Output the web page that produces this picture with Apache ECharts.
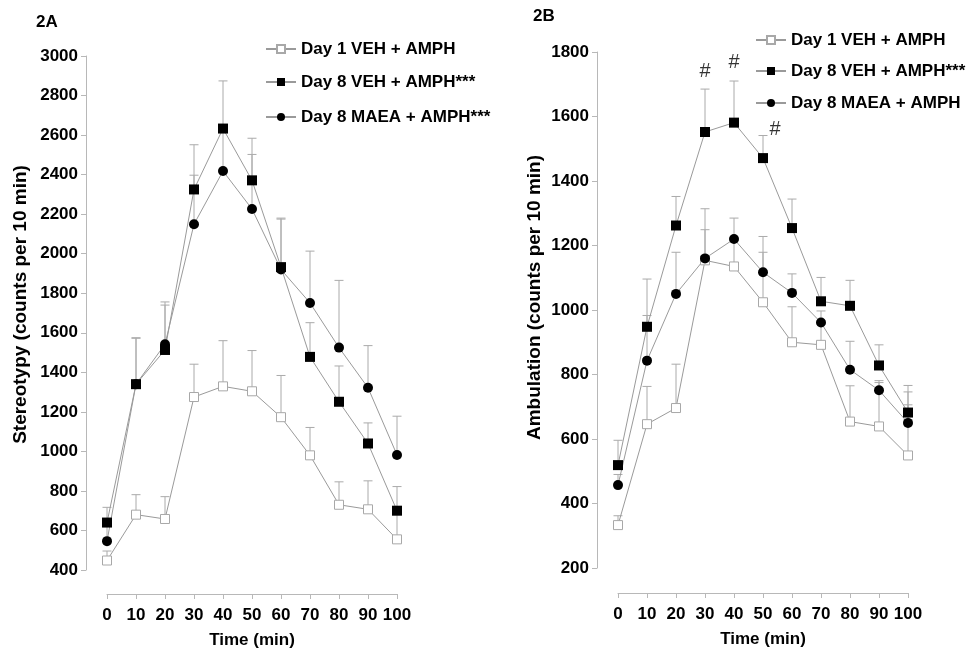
<!DOCTYPE html>
<html>
<head>
<meta charset="utf-8">
<script src="https://cdn.jsdelivr.net/npm/echarts@6/dist/echarts.min.js"></script>
<style>html,body{margin:0;padding:0;background:#fff;}#c{width:966px;height:654px;}</style>
</head>
<body>
<div id="c"></div>
<script>
// ---- data ----
const times = [0, 10, 20, 30, 40, 50, 60, 70, 80, 90, 100];
const seriesNamesA = ['Day 1 VEH + AMPH', 'Day 8 VEH + AMPH***', 'Day 8 MAEA + AMPH***'];
const seriesNamesB = ['Day 1 VEH + AMPH', 'Day 8 VEH + AMPH***', 'Day 8 MAEA + AMPH'];

// 2A Stereotypy: means and SEM
const stereoDay1Veh = [448, 680, 658, 1275, 1329, 1304, 1173, 980, 730, 707, 555];
const stereoDay1VehSem = [48, 101, 113, 166, 231, 206, 211, 141, 116, 144, 135];
const stereoDay8Veh = [640, 1340, 1513, 2325, 2633, 2371, 1932, 1478, 1251, 1040, 700];
const stereoDay8VehSem = [77, 235, 243, 226, 241, 213, 248, 173, 181, 104, 122];
const stereoDay8Maea = [546, 1340, 1542, 2149, 2418, 2226, 1920, 1751, 1525, 1322, 982];
const stereoDay8MaeaSem = [74, 232, 198, 248, 200, 276, 255, 262, 340, 213, 196];

// 2B Ambulation: means and SEM
const ambDay1Veh = [333, 646, 696, 1154, 1135, 1024, 900, 892, 654, 639, 549];
const ambDay1VehSem = [29, 117, 136, 160, 80, 155, 110, 68, 111, 142, 157];
const ambDay8Veh = [519, 948, 1262, 1552, 1581, 1471, 1254, 1027, 1013, 828, 682];
const ambDay8VehSem = [77, 148, 90, 133, 129, 70, 90, 74, 79, 64, 84];
const ambDay8Maea = [457, 843, 1050, 1160, 1220, 1117, 1053, 961, 815, 751, 650];
const ambDay8MaeaSem = [33, 140, 129, 89, 65, 111, 59, 36, 88, 24, 96];

// significance marks (#) on 2B
const hashX = [30, 40, 50];
const hashY = [1739, 1767, 1559];

const stereoTicks = {min: 400, max: 3000, interval: 200};
const ambTicks = {min: 200, max: 1800, interval: 200};

// ---- chart ----
const FONT = "'Liberation Sans', Arial, sans-serif";
const GRAY_LINE = '#9a9a9a';
const AXIS_GRAY = '#b8b8b8';

function pts(vals) { return times.map((t, i) => [t, vals[i]]); }
function errData(vals, sem) { return times.map((t, i) => [t, vals[i], vals[i] + sem[i]]); }

function errSeries(idx, vals, sem) {
  return {
    type: 'custom', xAxisIndex: idx, yAxisIndex: idx, z: 1, silent: true,
    data: errData(vals, sem),
    renderItem: function (params, api) {
      const p0 = api.coord([api.value(0), api.value(1)]);
      const p1 = api.coord([api.value(0), api.value(2)]);
      const hw = 4.5;
      return {
        type: 'group',
        children: [
          {type: 'line', shape: {x1: p0[0], y1: p0[1], x2: p1[0], y2: p1[1]}, style: {stroke: '#aaaaaa', lineWidth: 1}},
          {type: 'line', shape: {x1: p1[0] - hw, y1: p1[1], x2: p1[0] + hw, y2: p1[1]}, style: {stroke: '#aaaaaa', lineWidth: 1}}
        ]
      };
    }
  };
}

function lineSeries(idx, name, vals, kind) {
  const s = {
    type: 'line', name: name, xAxisIndex: idx, yAxisIndex: idx, z: 3,
    data: pts(vals),
    lineStyle: {color: GRAY_LINE, width: 1},
    itemStyle: {color: '#000', borderColor: '#000', borderWidth: 0},
    symbol: 'rect', symbolSize: 10, showAllSymbol: true, animation: false
  };
  if (kind === 'open') {
    s.symbolSize = 9;
    s.itemStyle = {color: '#fff', borderColor: '#a8a8a8', borderWidth: 1};
  } else if (kind === 'circle') {
    s.symbol = 'circle';
    s.symbolSize = 10;
  }
  return s;
}

const axisLabelStyle = {fontFamily: FONT, fontWeight: 'bold', fontSize: 17, color: '#000'};
const nameStyle = {fontFamily: FONT, fontWeight: 'bold', fontSize: 17, color: '#000'};
const yNameStyle = {fontFamily: FONT, fontWeight: 'bold', fontSize: 19, color: '#000'};

function xAxis(idx, offset, gap, margin) {
  return {
    type: 'value', gridIndex: idx, min: 0, max: 100, interval: 10, offset: offset,
    name: 'Time (min)', nameLocation: 'middle', nameGap: gap, nameMoveOverlap: false, nameTextStyle: nameStyle,
    axisLine: {show: true, onZero: false, lineStyle: {color: AXIS_GRAY, width: 1}},
    axisTick: {show: true, length: 5, inside: false, lineStyle: {color: AXIS_GRAY}},
    axisLabel: Object.assign({margin: margin, formatter: v => String(v)}, axisLabelStyle),
    splitLine: {show: false}
  };
}
function yAxis(idx, ticks, name, gap, pad) {
  return {
    type: 'value', gridIndex: idx, min: ticks.min, max: ticks.max, interval: ticks.interval, offset: 21,
    name: name, nameLocation: 'middle', nameGap: gap, nameMoveOverlap: false,
    nameTextStyle: Object.assign({padding: [0, 0, 0, pad]}, yNameStyle),
    axisLine: {show: true, onZero: false, lineStyle: {color: AXIS_GRAY, width: 1}},
    axisTick: {show: true, length: 5, inside: false, lineStyle: {color: AXIS_GRAY}},
    axisLabel: Object.assign({margin: 8, formatter: v => String(v)}, axisLabelStyle),
    splitLine: {show: false}
  };
}

function legendItem(name, left, centerY) {
  return {
    data: [name], left: left, top: centerY - 10, orient: 'horizontal', padding: 0,
    itemWidth: 30, itemHeight: 10, itemGap: 0, selectedMode: false,
    textStyle: {fontFamily: FONT, fontWeight: 'bold', fontSize: 17, color: '#000', lineHeight: 20}
  };
}

const option = {
  animation: false,
  backgroundColor: '#fff',
  title: [
    {text: '2A', left: 36, top: 14, padding: 0, textStyle: {fontFamily: FONT, fontWeight: 'bold', fontSize: 17, color: '#000'}},
    {text: '2B', left: 533, top: 8, padding: 0, textStyle: {fontFamily: FONT, fontWeight: 'bold', fontSize: 17, color: '#000'}}
  ],
  grid: [
    {left: 107, top: 56, width: 290, height: 517},
    {left: 618, top: 52, width: 290, height: 516}
  ],
  xAxis: [xAxis(0, 24, 38, 13), xAxis(1, 25, 38, 13)],
  yAxis: [
    yAxis(0, stereoTicks, 'Stereotypy (counts per 10 min)', 56, 17),
    yAxis(1, ambTicks, 'Ambulation (counts per 10 min)', 53, 25)
  ],
  legend: [
    legendItem(seriesNamesA[0], 265, 49),
    legendItem(seriesNamesA[1], 265, 82),
    legendItem(seriesNamesA[2], 265, 117),
    legendItem(seriesNamesB[0], 755, 40),
    legendItem(seriesNamesB[1], 755, 71),
    legendItem(seriesNamesB[2], 755, 103)
  ],
  series: [
    errSeries(0, stereoDay1Veh, stereoDay1VehSem),
    errSeries(0, stereoDay8Veh, stereoDay8VehSem),
    errSeries(0, stereoDay8Maea, stereoDay8MaeaSem),
    lineSeries(0, seriesNamesA[0], stereoDay1Veh, 'open'),
    lineSeries(0, seriesNamesA[1], stereoDay8Veh, 'filled'),
    lineSeries(0, seriesNamesA[2], stereoDay8Maea, 'circle'),
    errSeries(1, ambDay1Veh, ambDay1VehSem),
    errSeries(1, ambDay8Veh, ambDay8VehSem),
    errSeries(1, ambDay8Maea, ambDay8MaeaSem),
    lineSeries(1, seriesNamesB[0], ambDay1Veh, 'open'),
    lineSeries(1, seriesNamesB[1], ambDay8Veh, 'filled'),
    lineSeries(1, seriesNamesB[2], ambDay8Maea, 'circle'),
    {
      type: 'scatter', xAxisIndex: 1, yAxisIndex: 1, symbolSize: 1, silent: true, z: 5,
      itemStyle: {color: 'rgba(0,0,0,0)'},
      data: hashX.map((x, i) => ({
        value: [x, hashY[i]],
        label: {offset: i === 2 ? [12, 0] : [0, 0]}
      })),
      label: {show: true, position: 'inside', formatter: '#', fontFamily: FONT, fontSize: 20, fontWeight: 'normal', color: '#000'}
    }
  ]
};

const chart = echarts.init(document.getElementById('c'), null, {renderer: 'canvas'});
chart.setOption(option);
</script>
</body>
</html>
